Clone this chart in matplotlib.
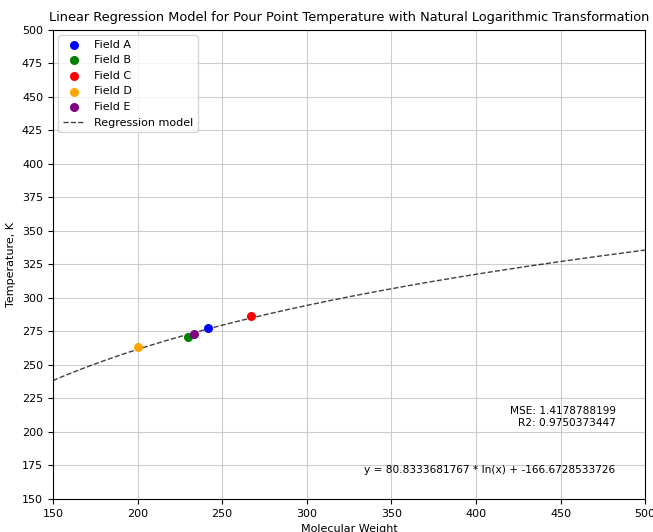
import numpy as np
import matplotlib.pyplot as plt

# molecular weight and pour point temperature (K) per field
fields = ['Field A', 'Field B', 'Field C', 'Field D', 'Field E']
colors = ['blue', 'green', 'red', 'orange', 'purple']
mol_weight = [241.8, 230.0, 266.9, 200.3, 233.4]
temperature = [277.4, 271.0, 286.6, 263.4, 273.4]

# fitted model: T = a * ln(MW) + b
slope = 80.8333681767
intercept = -166.6728533726
mse = 1.4178788199
r2 = 0.9750373447

x_model = np.linspace(150, 500, 300)
y_model = slope * np.log(x_model) + intercept

fig = plt.figure(figsize=(6.53, 5.32), dpi=100)
ax = fig.add_axes([0.081, 0.062, 0.907, 0.882])

for name, c, mw, t in zip(fields, colors, mol_weight, temperature):
    ax.scatter(mw, t, color=c, s=30, label=name, zorder=3)

ax.plot(x_model, y_model, color='k', linestyle='--', linewidth=1, alpha=0.75,
        label='Regression model')

ax.set_xlim(150, 500)
ax.set_ylim(150, 500)
ax.set_xticks(np.arange(150, 501, 50))
ax.set_yticks(np.arange(150, 501, 25))
ax.tick_params(labelsize=8)
ax.grid(True, color='#cccccc', linewidth=0.8)

ax.set_xlabel('Molecular Weight', fontsize=8)
ax.set_ylabel('Temperature, K', fontsize=8)
ax.set_title('Linear Regression Model for Pour Point Temperature with Natural Logarithmic Transformation',
             fontsize=9.3)

ax.text(0.95, 0.175, 'MSE: %.10f\nR2: %.10f' % (mse, r2), transform=ax.transAxes,
        ha='right', va='center', fontsize=7.6)
ax.text(0.95, 0.062, 'y = %.10f * ln(x) + %.10f' % (slope, intercept), transform=ax.transAxes,
        ha='right', va='center', fontsize=7.6)

ax.legend(loc='upper left', fontsize=8)

plt.savefig('out.png', dpi=100)
plt.close()
